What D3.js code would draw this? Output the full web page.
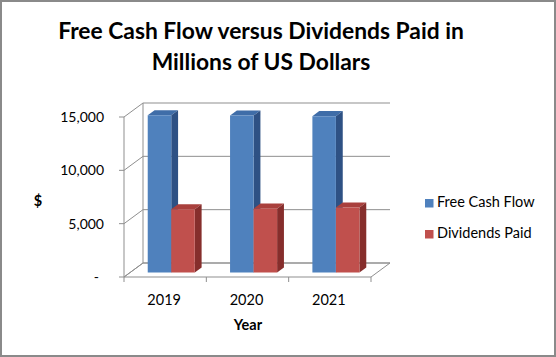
<!DOCTYPE html>
<html><head><meta charset="utf-8">
<script src="https://cdn.jsdelivr.net/npm/d3@7"></script>
<style>body{margin:0;background:#fff}svg{display:block}</style>
</head><body>
<svg id="c" width="556" height="357"></svg>
<script>
const categories = ["2019", "2020", "2021"];
const seriesNames = ["Free Cash Flow", "Dividends Paid"];
const freeCashFlow = [14750, 14720, 14660];
const dividendsPaid = [5930, 5990, 6100];
const yTicks = [0, 5000, 10000, 15000];
const titleLines = ["Free Cash Flow versus Dividends Paid in", "Millions of US Dollars"];

const colors = [
  {front: "#4F81BD", top: "#3F6DA8", side: "#2E5184"},
  {front: "#C0504D", top: "#A9403D", side: "#862E2C"}
];
const svg = d3.select("#c");
const FONT = "Lato, 'Open Sans', sans-serif";

svg.append("rect").attr("x", 1).attr("y", 1).attr("width", 554).attr("height", 355)
  .attr("fill", "#fff").attr("stroke", "#8a8a8a").attr("stroke-width", 2);

// 3D oblique projection
const DX = 19, DY = 14;
const P = (x, y, d) => [x + d * DX, y - d * DY];
const x = d3.scaleBand().domain(categories).range([124, 371]).padding(0);
const y = d3.scaleLinear().domain([0, 15000]).range([277, 117]);
const grid = "#8f8f8f";
const g = svg.append("g");

// floor
const fl = [P(124, y(0), 0), P(371, y(0), 0), P(371, y(0), 1), P(124, y(0), 1)];
g.append("polygon").attr("points", fl.map(p => p.join(",")).join(" "))
  .attr("fill", "#fff").attr("stroke", grid).attr("stroke-width", 1);

// gridlines on back wall + side wall
yTicks.forEach(v => {
  const a = P(124, y(v), 0), b = P(124, y(v), 1), c = P(371, y(v), 1);
  g.append("polyline").attr("points", [a, b, c].map(p => p.join(",")).join(" "))
    .attr("fill", "none").attr("stroke", grid).attr("stroke-width", 1);
});
// back corner vertical
{
  const a = P(124, y(0), 1), b = P(124, y(15000), 1);
  g.append("line").attr("x1", a[0]).attr("y1", a[1]).attr("x2", b[0]).attr("y2", b[1]).attr("stroke", grid);
}
// front vertical axis
g.append("line").attr("x1", 124).attr("y1", y(15000)).attr("x2", 124).attr("y2", y(0)).attr("stroke", grid);
yTicks.forEach(v => {
  g.append("line").attr("x1", 119).attr("x2", 124).attr("y1", y(v)).attr("y2", y(v)).attr("stroke", grid);
});
// x ticks
const xb = categories.map(c => x(c)).concat([x(categories[categories.length - 1]) + x.bandwidth()]);
xb.forEach(v => {
  g.append("line").attr("x1", v).attr("x2", v).attr("y1", y(0)).attr("y2", y(0) + 5).attr("stroke", grid);
});

// bars
const d0 = 0.32, d1 = 0.68;
const bw = x.bandwidth() / 3.5;
const sub = d3.scaleBand().domain(seriesNames).range([0, 2 * bw]);
const series = [freeCashFlow, dividendsPaid];
const bars = g.append("g");
categories.forEach((cat, i) => {
  series.forEach((vals, s) => {
    const x0 = x(cat) + (x.bandwidth() - 2 * bw) / 2 + sub(seriesNames[s]);
    const x1 = x0 + sub.bandwidth();
    const yt = y(vals[i]), yb = y(0);
    const poly = (pts, fill) => bars.append("polygon").attr("points", pts.map(p => p.join(",")).join(" ")).attr("fill", fill);
    poly([P(x0, yt, d0), P(x1, yt, d0), P(x1, yt, d1), P(x0, yt, d1)], colors[s].top);
    poly([P(x1, yt, d0), P(x1, yt, d1), P(x1, yb, d1), P(x1, yb, d0)], colors[s].side);
    poly([P(x0, yt, d0), P(x1, yt, d0), P(x1, yb, d0), P(x0, yb, d0)], colors[s].front);
  });
});

// y labels
const fmt = v => v === 0 ? "-" : d3.format(",")(v);
yTicks.forEach(v => {
  svg.append("text").attr("x", v === 0 ? 99 : 104).attr("y", y(v) + 5)
    .attr("text-anchor", "end").attr("font-family", FONT).attr("font-size", 14)
    .attr("fill", "#000").text(fmt(v));
});
// x labels
categories.forEach(c => {
  svg.append("text").attr("x", x(c) + x.bandwidth() / 2 - 1).attr("y", 305)
    .attr("text-anchor", "middle").attr("font-family", FONT).attr("font-size", 14.5).text(c);
});
svg.append("text").attr("x", 248).attr("y", 330).attr("text-anchor", "middle")
  .attr("font-family", FONT).attr("font-weight", "bold").attr("font-size", 14.5).text("Year");
svg.append("text").attr("x", 38).attr("y", 206).attr("text-anchor", "middle")
  .attr("font-family", FONT).attr("font-weight", "bold").attr("font-size", 14.5).text("$");

// title
const targetW = [406, 218];
titleLines.forEach((t, i) => {
  const el = svg.append("text").attr("x", 261).attr("y", 39 + i * 31).attr("text-anchor", "middle")
    .attr("font-family", FONT).attr("font-weight", "bold").attr("font-size", 22).attr("fill", "#000").text(t);
  if (i === 0) {
    const w = el.node().getComputedTextLength();
    const fs = 22 * targetW[0] / w;
    svg.selectAll("text.title").attr("font-size", fs);
    el.attr("font-size", fs).attr("class", "title");
    svg.node().dataset.fs = fs;
  } else {
    el.attr("font-size", +svg.node().dataset.fs).attr("class", "title");
  }
});

// legend
seriesNames.forEach((n, i) => {
  const ly = 207 + i * 31;
  svg.append("rect").attr("x", 425).attr("y", ly - 8).attr("width", 8.5).attr("height", 8.5).attr("fill", colors[i].front);
  svg.append("text").attr("x", 437).attr("y", ly).attr("font-family", FONT).attr("font-size", 14.5).text(n);
});
</script>
</body></html>
